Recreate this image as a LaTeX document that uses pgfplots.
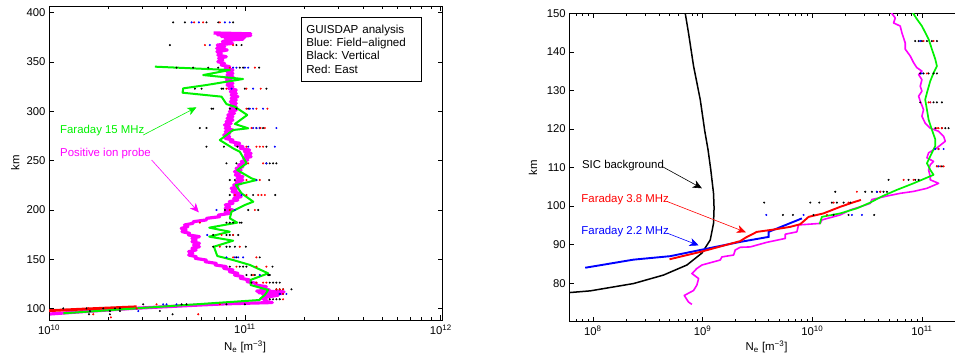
\documentclass[border=0pt]{standalone}
\usepackage{pgfplots}
\pgfplotsset{compat=1.18}
\usepackage{fontspec}
\setmainfont{Liberation Sans}
\usetikzlibrary{arrows.meta}
\definecolor{mgreen}{rgb}{0,0.95,0}
\definecolor{mmag}{rgb}{1,0,1}
\definecolor{mblue}{rgb}{0,0,1}
\definecolor{mred}{rgb}{1,0,0}
\frenchspacing
\pgfplotsset{
  mystyle/.style={
    scale only axis,
    axis line style={line width=0.7pt},
    tick align=inside,
    major tick length=5pt,
    minor tick length=2.8pt,
    every tick/.style={black, line width=0.5pt},
    tick label style={font=\fontsize{11.3}{13}\selectfont},
    label style={font=\fontsize{11.4}{13}\selectfont},
    /pgf/number format/assume math mode=true,
    xticklabel style={yshift=-1pt},
  },
  dots/.style={only marks, mark=*, mark size=0.8pt},
}
\tikzset{marr/.style={line width=0.6pt, -{Stealth[length=9pt,width=8pt,inset=2.5pt]}}}
\begin{document}
\begin{tikzpicture}
% ---------------- LEFT PANEL ----------------
\begin{axis}[mystyle, at={(49pt,40pt)}, anchor=south west,
  width=393.7pt, height=314pt,
  xmin=10, xmax=12.01, ymin=88.5, ymax=406.8,
  xtick={10,11,12},
  xticklabels={10\textsuperscript{10},10\textsuperscript{11},10\textsuperscript{12}},
  minor xtick={10.301,10.477,10.602,10.699,10.778,10.845,10.903,10.954,11.301,11.477,11.602,11.699,11.778,11.845,11.903,11.954},
  ytick={100,150,200,250,300,350,400},
  xlabel={N\textsubscript{e} [m\textsuperscript{−3}]},
  ylabel={km},
  xlabel style={at={(axis description cs:0.498,-0.086)}, anchor=center},
  ylabel style={at={(axis description cs:-0.086,0.5)}, anchor=center},
]
% Positive ion probe
\addplot[mmag, line width=3.2pt, line join=round] coordinates {
(10.840,379.5) (11.030,378.6) (10.860,377.7) (11.030,376.8) (10.880,375.9) (11.000,375.0)
(10.900,374.0) (10.990,373.1) (10.910,372.3)
(10.885,370.6) (10.937,368.9) (10.859,367.2) (10.897,365.5) (10.856,363.9) (10.910,362.2) (10.857,360.5)
(10.879,358.8) (10.862,357.1) (10.905,355.4) (10.866,353.7) (10.887,352.0) (10.862,350.3) (10.896,348.6)
(10.879,347.0) (10.922,345.3) (10.900,343.6) (10.939,341.9) (10.909,340.2) (10.939,338.5) (10.909,336.8)
(10.939,335.1) (10.904,333.5) (10.930,331.8) (10.904,330.1) (10.939,328.4) (10.909,326.7) (10.939,325.0)
(10.917,323.3) (10.956,321.6) (10.926,319.9) (10.956,318.2) (10.930,316.6) (10.964,314.9) (10.930,313.2)
(10.956,311.5) (10.926,309.8) (10.956,308.1) (10.926,306.4) (10.956,304.7) (10.926,303.1) (10.956,301.4)
(10.921,299.7) (10.947,298.0) (10.913,296.3) (10.939,294.6) (10.909,292.9) (10.939,291.2) (10.904,289.5)
(10.930,287.8) (10.896,286.2) (10.922,284.5) (10.900,282.8) (10.939,281.1) (10.900,279.4) (10.922,277.7)
(10.892,276.0) (10.922,274.3) (10.900,272.6) (10.939,270.9) (10.926,269.3) (10.973,267.6) (10.951,265.9)
(10.990,264.2) (10.977,262.5) (11.024,260.8) (10.998,259.1) (11.032,257.4) (11.002,255.8) (11.032,254.1)
(10.994,252.4) (11.015,250.7) (10.981,249.0) (11.007,247.3) (10.968,245.6) (10.990,243.9) (10.955,242.2)
(10.981,240.5) (10.947,238.9) (10.973,237.2) (10.951,235.5) (10.990,233.8) (10.960,232.1) (10.990,230.4)
(10.955,228.7) (10.981,227.0) (10.943,225.3) (10.964,223.6) (10.930,222.0) (10.956,220.3) (10.934,218.6)
(10.973,216.9) (10.947,215.2) (10.981,213.5) (10.943,211.8) (10.964,210.1) (10.921,208.5) (10.939,206.8)
(10.900,205.1) (10.922,203.4) (10.900,201.7) (10.939,200.0) (10.900,198.3) (10.922,196.6) (10.866,194.9)
(10.870,193.2) (10.806,191.6) (10.802,189.9) (10.738,188.2) (10.734,186.5) (10.692,184.8) (10.709,183.1)
(10.675,181.4) (10.700,179.7) (10.679,178.1) (10.717,176.4) (10.713,174.7) (10.768,173.0) (10.730,171.3)
(10.751,169.6) (10.730,167.9) (10.768,166.2) (10.738,164.5) (10.768,162.8) (10.730,161.2) (10.751,159.5)
(10.713,157.8) (10.734,156.1) (10.713,154.4) (10.751,152.7) (10.747,151.0) (10.802,149.3) (10.798,147.6)
(10.853,145.9) (10.849,144.3) (10.905,142.6) (10.892,140.9) (10.939,139.2) (10.921,137.5) (10.964,135.8)
(10.947,134.1) (10.990,132.4) (10.977,130.8) (11.024,129.1) (11.011,127.4) (11.058,125.7) (11.053,124.0)
(11.109,122.3) (11.087,120.6) (11.126,118.9) (11.060,117.8) (11.200,117.0) (11.070,116.2) (11.190,115.4)
(11.090,114.5) (11.170,113.6) (11.125,112.2) (11.087,110.5) (11.109,108.8) (11.100,107.5) (11.140,106.2)
(10.900,104.9) (10.770,103.7) (10.430,100.3) (10.175,97.0) (10.005,94.6)
};
% red low line
\addplot[mred, line width=2.8pt] coordinates {(9.98,97.8) (10.20,99.8) (10.447,101.9)};
% Faraday 15 MHz
\addplot[mgreen, line width=2pt, line join=round] coordinates {
(10.541,345.3) (10.923,341.9) (10.787,336.8) (10.991,332.8) (10.804,326.7) (10.685,323.3) (10.682,318.9)
(10.881,314.9) (10.906,307.4) (10.949,304.7) (11.012,296.3) (10.949,287.2) (11.017,282.8) (10.940,281.1)
(10.872,270.9) (10.940,262.5) (10.974,259.1) (11.009,247.3) (10.961,240.5) (11.034,232.1) (11.060,230.4)
(10.954,225.3) (10.983,216.9) (11.043,208.4) (11.000,205.1) (10.932,198.3) (10.923,191.6) (10.961,187.2)
(10.818,182.1) (10.923,178.0) (10.818,173.0) (10.940,168.9) (10.842,162.8) (10.859,153.4) (10.940,149.3)
(11.026,144.3) (11.119,135.8) (11.029,129.1) (11.029,124.0) (11.119,118.9) (11.102,113.9) (11.077,109.8)
(11.077,108.8) (10.073,95.3)
};
% GUISDAP dots
\addplot[dots, black] coordinates {
(10.634,390.2) (10.694,390.2) (10.804,390.2) (10.864,390.2) (10.940,390.2)
(10.617,367.2) (10.957,367.2) (10.983,367.2)
(10.651,344.3) (10.736,344.3) (10.813,344.3) (10.864,344.3) (10.974,344.3) (10.991,344.3) (11.073,344.3)
(10.745,323.0) (10.779,323.0) (10.881,323.0) (10.889,323.0) (11.000,323.0) (11.110,323.0)
(10.830,302.7) (10.838,302.7) (10.923,302.7) (10.957,302.7) (11.017,302.7)
(10.770,283.1) (10.804,283.1) (11.076,283.1) (11.059,283.1) (11.093,283.1)
(10.804,264.2) (10.893,264.2) (10.962,264.2) (11.110,264.2)
(10.906,247.3) (10.957,247.3) (11.110,247.3) (11.127,247.3) (11.144,247.3) (11.161,247.3)
(10.923,230.4) (10.949,230.4) (11.124,230.4)
(10.923,215.2) (11.042,215.2) (11.155,215.2)
(10.898,200.0) (11.017,200.0) (11.068,200.0)
(10.906,187.2) (10.923,187.2) (10.940,187.2) (10.974,187.2) (10.983,187.2)
(10.838,174.7) (10.906,174.7) (10.923,174.7) (10.940,174.7) (10.966,174.7)
(10.838,162.8) (10.906,162.8) (10.923,162.8) (10.949,162.8) (11.005,162.8)
(10.957,152.0) (11.076,152.0)
(10.923,142.6) (10.974,142.6) (10.991,142.6) (11.008,142.6) (11.141,142.6)
(11.008,134.1) (11.034,134.1) (11.051,134.1) (11.127,134.1) (11.119,134.1)
(11.034,126.4) (11.127,126.4) (11.144,126.4) (11.161,126.4) (11.178,126.4)
(11.161,119.6) (11.178,119.6) (11.195,119.6) (11.238,119.6)
(11.178,114.9)
(11.127,109.5) (11.144,109.5) (11.161,109.5) (11.178,109.5)
(10.481,104.4) (10.677,104.4) (10.702,104.4) (10.906,104.4) (11.000,104.4)
(10.073,100.3) (10.192,100.3) (10.277,100.3) (10.337,100.3) (10.362,100.3)
(10.209,97.6) (10.311,97.6) (10.362,97.6) (10.566,97.6)
(10.204,94.3) (10.311,94.3) (10.631,94.3)
};
\addplot[dots, mblue] coordinates {
(10.728,390.2) (10.765,390.2) (10.898,390.2) (10.923,390.2)
(10.821,367.2)
(10.940,344.3) (10.957,344.3) (11.000,344.3) (11.017,344.3)
(10.932,323.0) (11.042,323.0)
(11.025,302.7) (11.042,302.7) (11.093,302.7)
(11.042,283.1) (11.059,283.1) (11.076,283.1) (11.161,283.1)
(11.017,264.2) (11.153,264.2)
(11.110,247.3)
(11.059,230.4)
(10.983,215.2)
(10.855,200.0) (10.949,200.0)
(10.808,174.7)
(10.906,152.0) (10.949,152.0) (10.966,152.0) (10.991,152.0)
(11.076,134.1)
(11.178,114.9) (11.195,114.9) (11.212,114.9)
(10.583,104.4) (10.600,104.4) (10.651,104.4)
(10.456,97.6)
};
\addplot[dots, mred] coordinates {
(10.741,390.2) (10.787,390.2) (10.872,390.2)
(10.796,367.2) (10.940,367.2)
(10.923,344.3) (11.051,344.3)
(10.906,323.0) (11.008,323.0) (11.081,323.0)
(11.008,302.7) (11.059,302.7) (11.115,302.7)
(11.034,283.1) (11.102,283.1) (11.080,283.1)
(11.008,264.2) (11.059,264.2) (11.076,264.2) (11.093,264.2)
(11.017,247.3) (11.093,247.3)
(11.008,230.4) (11.076,230.4)
(10.949,215.2) (11.008,215.2) (11.068,215.2) (11.085,215.2) (11.102,215.2)
(10.923,200.0) (11.051,200.0)
(10.770,187.2)
(10.881,174.7) (10.940,174.7)
(10.872,162.8) (10.974,162.8)
(10.940,152.0) (11.059,152.0)
(10.957,142.6) (11.059,142.6) (11.110,142.6)
(11.042,134.1)
(11.059,126.4) (11.093,126.4) (11.110,126.4)
(11.161,119.6) (11.178,119.6) (11.195,119.6)
(11.195,114.9)
(11.195,109.5)
(10.549,104.4) (10.872,104.4)
(10.201,100.3) (10.447,100.3)
(10.226,94.3) (10.762,94.3)
(10.316,91.2)
};
% annotations
\node[anchor=west, text=mgreen, font=\fontsize{11.4}{13}\selectfont, inner sep=0pt] at (axis cs:10.056,280.1) {Faraday 15 MHz};
\draw[marr, mgreen] (axis cs:10.481,276.0) -- (axis cs:10.753,304.1);
\node[anchor=west, text=mmag, font=\fontsize{11.4}{13}\selectfont, inner sep=0pt] at (axis cs:10.056,257.4) {Positive ion probe};
\draw[marr, mmag] (axis cs:10.524,250.7) -- (axis cs:10.765,197.6);
\node[draw, line width=0.6pt, anchor=north west, text width=109.7pt, minimum width=119.7pt, minimum height=64.3pt,
  inner xsep=5pt, inner ysep=3pt, align=left, fill=white, font=\fontsize{11.6}{13.3}\selectfont]
  at (rel axis cs:0.640,0.966)
  {GUISDAP analysis\\Blue: Field−aligned\\Black: Vertical\\Red: East};
\end{axis}
% ---------------- RIGHT PANEL ----------------
\begin{axis}[mystyle, at={(569.3pt,38.3pt)}, anchor=south west,
  width=418.4pt, height=308.4pt,
  xmin=7.785, xmax=11.6, ymin=70, ymax=150,
  xtick={8,9,10,11},
  xticklabels={10\textsuperscript{8},10\textsuperscript{9},10\textsuperscript{10},10\textsuperscript{11}},
  minor xtick={7.845,7.903,7.954,8.301,8.477,8.602,8.699,8.778,8.845,8.903,8.954,9.301,9.477,9.602,9.699,9.778,9.845,9.903,9.954,10.301,10.477,10.602,10.699,10.778,10.845,10.903,10.954,11.301,11.477},
  ytick={80,90,100,110,120,130,140,150},
  xlabel={N\textsubscript{e} [m\textsuperscript{−3}]},
  ylabel={km},
  xlabel style={at={(axis description cs:0.4715,-0.082)}, anchor=center},
  ylabel style={at={(axis description cs:-0.087,0.5)}, anchor=center},
]
% SIC background
\addplot[black, line width=1.5pt] coordinates {
(8.842,150.0) (8.872,144.9) (8.918,136.3) (8.979,127.6) (9.020,119.5) (9.050,114.6) (9.075,109.4)
(9.100,103.3) (9.105,99.5) (9.100,95.5) (9.070,91.2) (8.994,87.8) (8.857,84.7) (8.644,82.1)
(8.371,79.9) (7.976,78.0) (7.763,77.5)
};
% positive ion probe
\addplot[mmag, line width=1.6pt, line join=round] coordinates {
(8.903,74.5) (8.872,75.1) (8.833,76.8) (8.918,78.1) (8.948,79.5) (8.964,81.2) (8.903,82.5) (8.948,83.8)
(8.994,84.7) (9.161,86.0) (9.176,86.8) (9.283,87.3) (9.298,88.6) (9.343,89.3) (9.435,89.4) (9.587,90.6)
(9.754,91.6) (9.754,92.7) (9.860,93.3) (9.875,95.1) (10.073,95.5) (10.088,96.4) (10.255,97.7)
(10.347,99.0) (10.438,99.8) (10.529,100.7) (10.544,101.7) (10.681,102.6) (10.802,103.3) (10.924,103.8)
(11.046,104.6) (11.152,105.9) (11.076,106.8) (11.076,107.6) (11.061,109.4) (11.076,110.7) (11.106,111.6)
(11.046,112.5) (11.061,113.8) (11.137,115.1) (11.213,116.8) (11.198,118.1) (11.152,119.4) (11.076,120.2)
(11.030,121.5) (11.000,123.3) (11.015,125.0) (10.985,127.2) (10.970,128.5) (11.000,129.8) (10.985,131.1)
(11.000,132.8) (10.970,134.1) (11.000,135.0) (10.954,135.9) (10.924,137.2) (10.894,138.9) (10.848,140.7)
(10.848,142.3) (10.818,144.9) (10.802,146.7) (10.742,147.5) (10.757,148.8) (10.711,150.5)
};
% Faraday 15 MHz
\addplot[mgreen, line width=1.7pt, line join=round] coordinates {
(10.067,95.3) (10.088,97.2) (10.255,98.1) (10.407,99.4) (10.529,100.9) (10.635,102.5) (10.772,104.2)
(10.924,105.9) (11.106,108.1) (11.076,109.4) (11.046,111.1) (11.091,113.8) (11.122,115.6) (11.122,117.3)
(11.091,119.8) (11.061,122.4) (11.046,125.0) (11.030,127.6) (11.046,129.4) (11.076,132.4) (11.106,134.5)
(11.137,136.3) (11.122,138.1) (11.091,140.7) (11.061,143.3) (11.000,146.7) (10.954,148.5) (10.909,150.5)
};
% Faraday 2.2 MHz
\addplot[mblue, line width=1.9pt] coordinates {
(7.930,84.0) (8.371,86.1) (8.705,87.0) (8.979,88.6) (9.343,90.7) (9.602,92.0) (9.602,93.3) (9.906,96.8)
};
% Faraday 3.8 MHz
\addplot[mred, line width=1.9pt] coordinates {
(8.699,86.2) (8.979,88.1) (9.343,90.9) (9.404,92.0) (9.495,93.3) (9.647,93.9) (9.799,94.6) (9.891,95.3)
(9.967,97.2) (10.103,98.1) (10.255,99.8) (10.347,100.7) (10.444,101.6)
};
% GUISDAP dots
\addplot[dots, black] coordinates {
(10.939,142.8) (10.970,142.8) (11.000,142.8) (11.046,142.8) (11.091,142.8) (11.137,142.8)
(10.985,134.4) (11.015,134.4) (11.061,134.4) (11.106,134.4) (11.137,134.4)
(10.985,126.9) (11.106,126.9) (11.137,126.9) (11.182,126.9)
(11.122,120.2) (11.182,120.2) (11.213,120.2) (11.243,120.2)
(11.137,110.3) (11.182,110.3)
(10.696,106.8) (10.878,106.8) (10.939,106.8) (10.970,106.8)
(10.210,103.7) (10.483,103.7) (10.544,103.7) (10.590,103.7) (10.650,103.7) (10.681,103.7)
(9.562,100.9) (9.982,100.9) (10.064,100.9) (10.179,100.9) (10.225,100.9) (10.286,100.9) (10.347,100.9)
(9.733,97.7) (9.824,97.7) (10.012,97.7) (10.195,97.7) (10.331,97.7) (10.565,97.7)
};
\addplot[dots, mblue] coordinates {
(10.985,142.8) (11.000,134.4) (11.076,126.9) (11.122,114.8) (11.152,114.8) (11.198,114.8) (11.152,110.3)
(10.590,103.7) (10.620,103.7) (9.581,97.7) (9.921,97.7) (10.362,97.7) (10.453,97.7)
};
\addplot[dots, mred] coordinates {
(11.015,142.8) (11.106,142.8) (11.046,134.4) (11.061,126.9) (11.076,126.9) (11.137,120.2) (11.152,120.2)
(11.182,120.2) (11.152,114.8) (11.137,110.3) (11.167,110.3) (11.198,110.3) (10.833,106.8) (10.924,106.8)
(10.407,103.7) (10.620,103.7) (10.195,100.9) (10.331,100.9) (10.134,97.7)
};
% annotations
\node[anchor=west, text=black, font=\fontsize{11.4}{13}\selectfont, inner sep=0pt] at (axis cs:7.900,110.4) {SIC background};
\draw[marr, black] (axis cs:8.629,110.3) -- (axis cs:8.994,104.6);
\node[anchor=west, text=mred, font=\fontsize{11.4}{13}\selectfont, inner sep=0pt] at (axis cs:7.894,101.7) {Faraday 3.8 MHz};
\draw[marr, mred] (axis cs:8.675,101.2) -- (axis cs:9.395,93.2);
\node[anchor=west, text=mblue, font=\fontsize{11.4}{13}\selectfont, inner sep=0pt] at (axis cs:7.894,93.5) {Faraday 2.2 MHz};
\draw[marr, mblue] (axis cs:8.675,93.0) -- (axis cs:8.964,89.8);
\end{axis}
\pgfresetboundingbox
\path[use as bounding box] (0,0) rectangle (955pt,360pt);
\end{tikzpicture}
\end{document}
